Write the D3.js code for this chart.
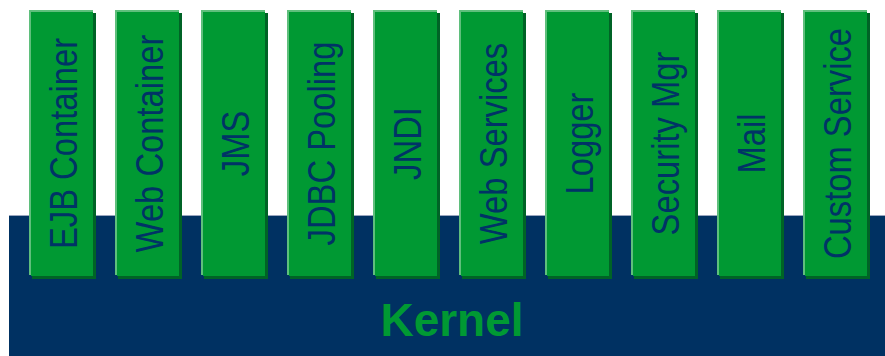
<!DOCTYPE html>
<html>
<head>
<meta charset="utf-8">
<script src="https://cdn.jsdelivr.net/npm/d3@7"></script>
<style>
  body { margin: 0; background: #fff; }
  svg { display: block; }
</style>
</head>
<body>
<div id="chart"></div>
<script>
// the services sitting on top of the kernel, left to right
var services = ["EJB Container", "Web Container", "JMS", "JDBC Pooling", "JNDI",
                "Web Services", "Logger", "Security Mgr", "Mail", "Custom Service"];
var baseLabel = "Kernel";

var width = 885, height = 356;

var svg = d3.select("#chart")
    .append("svg")
    .attr("width", width)
    .attr("height", height);

// layout scales
var x = d3.scaleBand()
    .domain(services)
    .range([29, 868])
    .paddingInner(21 / 86)
    .paddingOuter(0);

var boxTop = 10, boxBottom = 275, kernelTop = 215;

// kernel slab
svg.append("rect")
    .attr("x", 9)
    .attr("y", kernelTop)
    .attr("width", width - 9)
    .attr("height", height - kernelTop)
    .style("fill", "#003162");

svg.append("line")
    .attr("x1", 9)
    .attr("x2", width)
    .attr("y1", kernelTop + 0.5)
    .attr("y2", kernelTop + 0.5)
    .style("stroke", "#9aa6bf")
    .style("stroke-width", 1);

svg.append("text")
    .attr("x", 452)
    .attr("y", 336)
    .style("text-anchor", "middle")
    .style("font-family", "'Liberation Sans', Arial, sans-serif")
    .style("font-weight", "bold")
    .style("font-size", "46px")
    .style("fill", "#009933")
    .text(baseLabel);

// service boxes
var box = svg.selectAll("g.box")
    .data(services)
    .enter()
    .append("g")
    .attr("class", "box");

// dark shadow
box.append("rect")
    .attr("x", d => x(d) + 3)
    .attr("y", boxTop + 3)
    .attr("width", x.bandwidth() - 1)
    .attr("height", boxBottom - boxTop + 1)
    .style("fill", "#006326");

// light highlight
box.append("rect")
    .attr("x", d => x(d))
    .attr("y", boxTop)
    .attr("width", x.bandwidth() - 1)
    .attr("height", boxBottom - boxTop)
    .style("fill", "#5fbf7c");

// main face
box.append("rect")
    .attr("x", d => x(d) + 2)
    .attr("y", boxTop + 2)
    .attr("width", x.bandwidth() - 3)
    .attr("height", boxBottom - boxTop - 1)
    .style("fill", "#009933");

// vertical labels
box.append("text")
    .attr("transform", function(d) {
        var cx = x(d) + x.bandwidth() / 2 + 1;
        var cy = (boxTop + boxBottom) / 2 + 1;
        return "translate(" + (cx + 14) + "," + cy + ") rotate(-90) scale(0.84,1)";
    })
    .style("text-anchor", "middle")
    .style("font-family", "'Liberation Sans', Arial, sans-serif")
    .style("font-size", "39px")
    .style("fill", "#003366")
    .text(d => d);
</script>
</body>
</html>
